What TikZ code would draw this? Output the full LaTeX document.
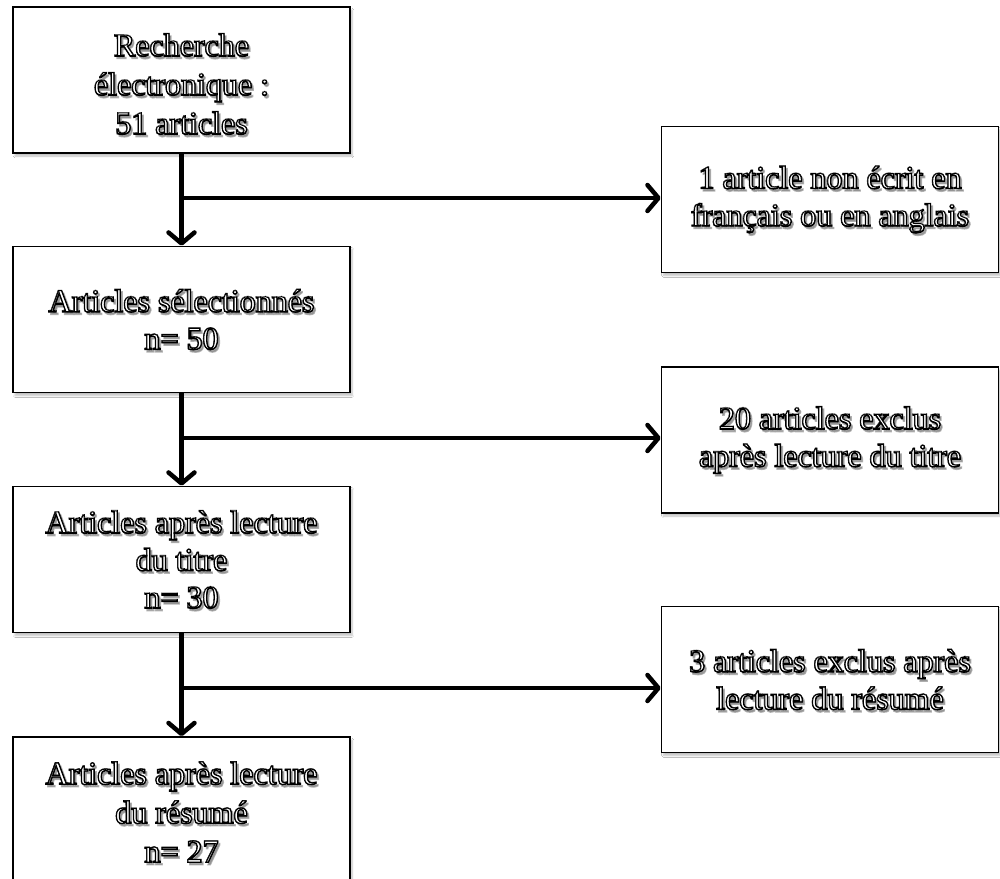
\documentclass[tikz,border=0pt]{standalone}
\usepackage{fontspec}
\setmainfont{Liberation Serif}
\newfontfamily\rimfont[FakeBold=5]{Liberation Serif}
\usetikzlibrary{arrows.meta,shadows.blur}
\definecolor{textshade}{gray}{0.5}

\tikzset{
  stage/.style={draw=black, line width=1.6pt, fill=white,
    minimum width=337pt, minimum height=146pt, inner sep=0pt,
    blur shadow={shadow xshift=2pt, shadow yshift=-3pt, shadow blur steps=6, shadow opacity=25}},
  lettering/.style={align=center, inner sep=0pt, font=\fontsize{32}{37.5}\selectfont},
  rimmed/.style={lettering, font=\fontsize{32}{37.5}\selectfont\rimfont},
  flow/.style={line width=4.5pt,
    -{Straight Barb[length=11pt, width=26pt, round]}},
}

% glyphs stroked only (text render mode 1)
\newcommand\strokedtext[1]{\special{pdf:literal direct 1 Tr 1 w}#1\special{pdf:literal direct 0 Tr}}

% hollow lettering in a box: soft grey shadow, black rim, white face, inked outline
% #1 box name, #2 vertical offset, #3 text
\newcommand\boxtext[3][0pt]{%
  \node[rimmed, text=textshade, opacity=0.6, xshift=2pt, yshift=-2.5pt-#1] (#2-s) at (#2.center) {#3};
  \node[rimmed, text=black, yshift=-#1] (#2-r) at (#2.center) {#3};
  \node[lettering, text=white, yshift=-#1] (#2-f) at (#2.center) {#3};
  \node[lettering, text=black, yshift=-#1] (#2-o) at (#2.center) {\strokedtext{#3}};}

\begin{document}
\begin{tikzpicture}[x=1pt, y=-1pt]
  \clip (0,0) rectangle (1000,878);
  \fill[white] (0,0) rectangle (1000,878);

  % main column
  \node[stage] (b1) at (181.5,80) {};
  \node[stage] (b2) at (181.5,319.5) {};
  \node[stage] (b3) at (181.5,559.5) {};
  \node[stage] (b4) at (181.5,810) {};

  % exclusions
  \node[stage] (r1) at (830,199.5) {};
  \node[stage] (r2) at (830,440) {};
  \node[stage] (r3) at (830,679.5) {};

  \boxtext[4pt]{b1}{Recherche\\[1.5pt]électronique :\\[1.5pt]51 articles}
  \boxtext{b2}{Articles sélectionnés\\n= 50}
  \boxtext{b3}{Articles après lecture\\du titre\\n= 30}
  \boxtext[2pt]{b4}{Articles après lecture\\[1.5pt]du résumé\\[1.5pt]n= 27}
  \boxtext{r1}{1 article non écrit en\\français ou en anglais}
  \boxtext{r2}{20 articles exclus\\après lecture du titre}
  \boxtext{r3}{3 articles exclus après\\lecture du résumé}

  % junctions on the main column
  \coordinate (j1) at (181.5,198);
  \coordinate (j2) at (181.5,438);
  \coordinate (j3) at (181.5,688);

  \draw[flow] (b1.south) -- (b2.north);
  \draw[flow] (b2.south) -- (b3.north);
  \draw[flow] (b3.south) -- (b4.north);

  \draw[flow] (j1) -- (j1 -| r1.west);
  \draw[flow] (j2) -- (j2 -| r2.west);
  \draw[flow] (j3) -- (j3 -| r3.west);
\end{tikzpicture}
\end{document}
